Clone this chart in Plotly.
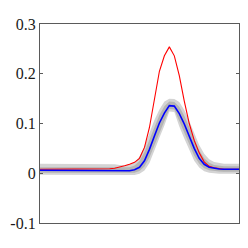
import plotly.graph_objects as go

x = [i * 2.5 for i in range(41)]

red = [0.008, 0.008, 0.008, 0.008, 0.008, 0.008, 0.008, 0.008, 0.008, 0.008,
       0.008, 0.008, 0.008, 0.009, 0.009, 0.010, 0.012, 0.015, 0.018, 0.022,
       0.030, 0.052, 0.092, 0.145, 0.205, 0.236, 0.254, 0.236, 0.196, 0.145,
       0.100, 0.066, 0.041, 0.023, 0.014, 0.011, 0.009, 0.008, 0.008, 0.008, 0.008]

blue = [0.006, 0.006, 0.006, 0.006, 0.006, 0.006, 0.0055, 0.0055, 0.0055, 0.0055,
        0.0055, 0.005, 0.005, 0.005, 0.005, 0.005, 0.0045, 0.0045, 0.005, 0.007,
        0.012, 0.025, 0.048, 0.075, 0.101, 0.121, 0.136, 0.135, 0.120, 0.099,
        0.074, 0.050, 0.030, 0.018, 0.012, 0.0095, 0.0085, 0.008, 0.008, 0.008, 0.008]

outer_hi = [0.019, 0.019, 0.019, 0.019, 0.019, 0.019, 0.0185, 0.0185, 0.0185, 0.0185,
            0.0185, 0.018, 0.018, 0.018, 0.018, 0.018, 0.0165, 0.016, 0.018, 0.022,
            0.033, 0.054, 0.081, 0.107, 0.128, 0.144, 0.150, 0.149, 0.143, 0.127,
            0.105, 0.080, 0.057, 0.039, 0.028, 0.0225, 0.020, 0.019, 0.019, 0.019, 0.019]

outer_lo = [-0.003, -0.003, -0.003, -0.003, -0.003, -0.003, -0.0035, -0.0035, -0.0035, -0.0035,
            -0.0035, -0.004, -0.004, -0.004, -0.004, -0.004, -0.0045, -0.0045, -0.0044, -0.0036,
            -0.001, 0.0056, 0.0206, 0.0444, 0.0712, 0.096, 0.124, 0.123, 0.094, 0.070,
            0.046, 0.025, 0.0114, 0.0042, 0.001, -0.0003, -0.0009, -0.001, -0.001, -0.001, -0.001]

mid_hi = [0.012, 0.012, 0.012, 0.012, 0.012, 0.012, 0.0115, 0.0115, 0.0115, 0.0115,
          0.0115, 0.011, 0.011, 0.011, 0.011, 0.011, 0.0105, 0.011, 0.012, 0.0155,
          0.0245, 0.0425, 0.0675, 0.094, 0.117, 0.1345, 0.144, 0.143, 0.1335, 0.1155,
          0.0925, 0.068, 0.046, 0.030, 0.021, 0.0168, 0.015, 0.014, 0.014, 0.014, 0.014]

mid_lo = [0.001, 0.001, 0.001, 0.001, 0.001, 0.001, 0.0005, 0.0005, 0.0005, 0.0005,
          0.0005, 0.0, 0.0, 0.0, 0.0, 0.0, -0.0005, -0.0005, -0.0003, 0.001,
          0.0045, 0.0135, 0.0315, 0.0565, 0.083, 0.106, 0.129, 0.128, 0.1045, 0.0815,
          0.057, 0.035, 0.019, 0.010, 0.0058, 0.004, 0.0033, 0.003, 0.003, 0.003, 0.003]

y_ticks = [-0.1, 0, 0.1, 0.2, 0.3]
y_labels = ["-0.1", "0", "0.1", "0.2", "0.3"]

fig = go.Figure()

def band(hi, lo, color):
    fig.add_trace(go.Scatter(x=x, y=hi, mode="lines", line=dict(width=0, color=color),
                             hoverinfo="skip", showlegend=False))
    fig.add_trace(go.Scatter(x=x, y=lo, mode="lines", line=dict(width=0, color=color),
                             fill="tonexty", fillcolor=color, hoverinfo="skip", showlegend=False))

band(outer_hi, outer_lo, "#d4d4d4")
band(mid_hi, mid_lo, "#b4b4b4")

fig.add_trace(go.Scatter(x=x, y=red, mode="lines", line=dict(color="#ff0000", width=1.1),
                         showlegend=False))
fig.add_trace(go.Scatter(x=x, y=blue, mode="lines", line=dict(color="#0000ff", width=1.6),
                         showlegend=False))

serif = "'Liberation Serif', 'Times New Roman', Times, serif"

fig.update_layout(
    width=248, height=248,
    margin=dict(l=40, r=9, t=24, b=25),
    paper_bgcolor="white", plot_bgcolor="white",
    font=dict(family=serif, size=16, color="#1a1a1a"),
)
fig.update_xaxes(range=[0, 100], showgrid=False, zeroline=False, showticklabels=False,
                 ticks="", showline=True, linecolor="#5a5a5a", linewidth=1.2, mirror=True)
fig.update_yaxes(range=[-0.1, 0.3], tickvals=y_ticks, ticktext=y_labels,
                 showgrid=False, zeroline=False, ticks="inside", ticklen=3,
                 tickcolor="#5a5a5a", showline=True, linecolor="#5a5a5a", linewidth=1.2,
                 mirror="ticks", tickfont=dict(family=serif, size=16, color="#1a1a1a"))

fig.write_html("out.html", config={"displayModeBar": False},
               post_script="document.body.style.margin='0';")
